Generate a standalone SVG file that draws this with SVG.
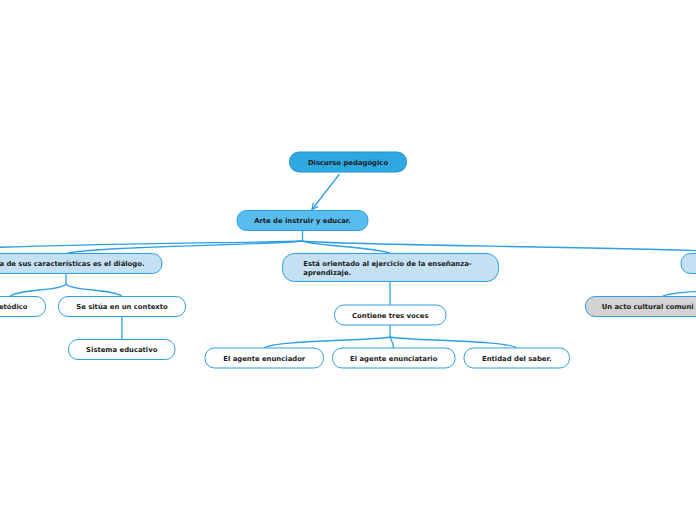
<svg xmlns="http://www.w3.org/2000/svg" width="696" height="520" viewBox="0 0 696 520">
<style>
.n rect{stroke:#2d9fe3;stroke-width:1}
.root rect{fill:#2fa7e1;stroke:#1f93d4}
.l1 rect{fill:#58bdee;stroke:#2a9de0}
.l2 rect{fill:#c4e0f3}
.l3 rect{fill:#ffffff}
.grey rect{fill:#d3d3d3}
text{font-family:"DejaVu Sans","Verdana",sans-serif;font-weight:bold;font-size:6.85px;fill:#1a1a1a}
.c{text-anchor:middle}
.e{text-anchor:end}
#connectors path{fill:none;stroke:#2d9fe3;stroke-width:1.3}
</style>
<defs>
<marker id="arr" viewBox="0 0 8 8" refX="7" refY="4" markerWidth="8" markerHeight="8" orient="auto" markerUnits="userSpaceOnUse">
<path d="M1,1 L7,4 L1,7" fill="none" stroke="#2d9fe3" stroke-width="1.2"/>
</marker>
</defs>
<rect width="696" height="520" fill="#ffffff"/>
<g id="connectors">
<path d="M339.5,174 L312,209.5" marker-end="url(#arr)"/>
<path d="M302.5,230.5 V241"/>
<path d="M302.5,241 C250,243 0,244 -150,253.5"/>
<path d="M302.5,241 C280,245 90,246 66,253.5"/>
<path d="M302.5,241 C306,245 384,248 390,253.5"/>
<path d="M302.5,241 C320,245 650,247 780,253.5"/>
<path d="M66,273.5 V284"/>
<path d="M66,284 C62,291 16,289 10,296.5"/>
<path d="M66,284 C70,291 116,289 122,296.5"/>
<path d="M122,316.5 V339.5"/>
<path d="M390,281.5 V305"/>
<path d="M390,325 V337"/>
<path d="M390,337 C372,341 274,340 264,348"/>
<path d="M390,337 C392,341 393,343 393.75,348"/>
<path d="M390,337 C408,341 507,340 516.75,348"/>
<path d="M780,273.5 V284 C776,290 672,289 662,296.5"/>
</g>
<g id="n-root" class="n root">
<rect x="289.5" y="152" width="117" height="20" rx="9.5"/>
<text class="c" x="348" y="164.6">Discurso pedagógico</text>
</g>
<g id="n-arte" class="n l1">
<rect x="237" y="210.5" width="131" height="20" rx="9.5"/>
<text class="c" x="302.5" y="223.1">Arte de instruir y educar.</text>
</g>
<g id="n-dialogo" class="n l2">
<rect x="-32" y="253.5" width="194" height="20" rx="9.5"/>
<text class="e" x="144.5" y="266.1">a de sus características es el diálogo.</text>
</g>
<g id="n-metodico" class="n l3">
<rect x="-27" y="296.5" width="72.5" height="20" rx="9.5"/>
<text class="e" x="27.5" y="309.1">etódico</text>
</g>
<g id="n-contexto" class="n l3">
<rect x="58.5" y="296.5" width="127" height="20" rx="9.5"/>
<text class="c" x="122" y="309.1">Se sitúa en un contexto</text>
</g>
<g id="n-sistema" class="n l3">
<rect x="68.5" y="339.5" width="106.5" height="20" rx="9.5"/>
<text class="c" x="121.75" y="352.1">Sistema educativo</text>
</g>
<g id="n-orientado" class="n l2">
<rect x="282.5" y="253.5" width="216" height="28" rx="12"/>
<text x="303.3" y="265.7">Está orientado al ejercicio de la enseñanza-</text>
<text x="303.3" y="274.5">aprendizaje.</text>
</g>
<g id="n-voces" class="n l3">
<rect x="334.5" y="305" width="111.5" height="20" rx="9.5"/>
<text class="c" x="390.25" y="317.6">Contiene tres voces</text>
</g>
<g id="n-enunciador" class="n l3">
<rect x="205" y="348" width="118.5" height="20" rx="9.5"/>
<text class="c" x="264.25" y="360.6">El agente enunciador</text>
</g>
<g id="n-enunciatario" class="n l3">
<rect x="332.5" y="348" width="122.5" height="20" rx="9.5"/>
<text class="c" x="393.75" y="360.6">El agente enunciatario</text>
</g>
<g id="n-saber" class="n l3">
<rect x="464" y="348" width="105.5" height="20" rx="9.5"/>
<text class="c" x="516.75" y="360.6">Entidad del saber.</text>
</g>
<g id="n-right" class="n l2">
<rect x="681" y="253.5" width="200" height="20" rx="9.5"/>
</g>
<g id="n-acto" class="n grey">
<rect x="585.5" y="296.5" width="154" height="20" rx="9.5"/>
<text x="601.7" y="309.1">Un acto cultural comuni</text>
</g>
</svg>
